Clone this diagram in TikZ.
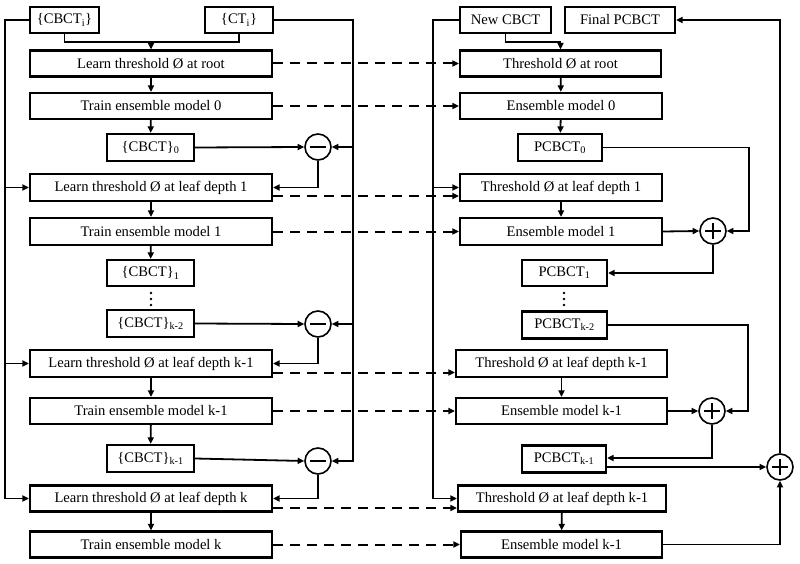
\documentclass[tikz,border=0pt]{standalone}
\usepackage{fontspec}
\setmainfont{Liberation Serif}
\usetikzlibrary{arrows.meta}
\begin{document}
\begin{tikzpicture}[x=1pt,y=-1pt,
  box/.style={draw, line width=2.2pt, inner sep=0pt, font=\fontsize{14.6}{18}\selectfont, minimum height=26pt},
  big/.style={box, minimum width=242pt},
  small/.style={box, minimum width=87pt, minimum height=27pt},
  ln/.style={line width=1.8pt},
  arr/.style={line width=1.8pt, -{Triangle[length=6.5pt,width=6pt]}},
  dsh/.style={line width=2pt, dash pattern=on 10pt off 7pt, -{Triangle[length=6.5pt,width=6pt]}},
  opc/.style={draw, circle, line width=1.6pt, minimum size=26pt, inner sep=0pt}]
\useasboundingbox (0,0) rectangle (800,564);
% ---------- left column ----------
\node[box, minimum width=69pt] (cbcti) at (64.5,20) {\{CBCT\textsubscript{i}\}};
\node[box, minimum width=68pt] (cti) at (239,20) {\{CT\textsubscript{i}\}};
\node[big] (lroot) at (151,63.5) {Learn threshold Ø at root};
\node[big] (tm0) at (151,106) {Train ensemble model 0};
\node[small] (c0) at (150.5,147.5) {\{CBCT\}\textsubscript{0}};
\node[big, minimum height=27pt] (l1) at (151,187.5) {Learn threshold Ø at leaf depth 1};
\node[big, minimum height=27pt] (tm1) at (151,231.5) {Train ensemble model 1};
\node[small, minimum height=26pt] (c1) at (150.5,273) {\{CBCT\}\textsubscript{1}};
\node[small] (ck2) at (150.5,323.5) {\{CBCT\}\textsubscript{k-2}};
\node[big, minimum height=27pt] (lk1) at (151,363.5) {Learn threshold Ø at leaf depth k-1};
\node[big] (tmk1) at (151,411) {Train ensemble model k-1};
\node[small] (ck1) at (150.5,458.5) {\{CBCT\}\textsubscript{k-1}};
\node[big] (lk) at (151,498.5) {Learn threshold Ø at leaf depth k};
\node[big] (tmk) at (151,544.5) {Train ensemble model k};
\node[opc] (m0) at (318,147) {};
\node[opc] (m1) at (318,324) {};
\node[opc] (m2) at (318,461) {};
\foreach \m in {m0,m1,m2}{\draw[line width=1.8pt] ([xshift=-8pt]\m.center) -- ([xshift=8pt]\m.center);}
\foreach \yy in {293,299,305}{\fill (151,\yy) circle (1.4);}
\coordinate (lx) at (5,0);
\coordinate (rx) at (353,0);
\coordinate (jn) at (151,42);
\draw[ln] (cbcti.south) |- (jn) -| (cti.south);
\draw[arr] (jn) -- (lroot.north);
\draw[arr] (cbcti.west) -- (cbcti.west -| lx) |- (lk.west);
\draw[arr] (l1.west -| lx) -- (l1.west);
\draw[arr] (lk1.west -| lx) -- (lk1.west);
\draw[arr] (cti.east) -- (cti.east -| rx) |- (m2.east);
\draw[arr] (m0.east -| rx) -- (m0.east);
\draw[arr] (m1.east -| rx) -- (m1.east);
\draw[arr] (lroot) -- (tm0);
\draw[arr] (tm0) -- (c0);
\draw[arr] (l1) -- (tm1);
\draw[arr] (tm1) -- (c1);
\draw[arr] (lk1) -- (tmk1);
\draw[arr] (tmk1) -- (ck1);
\draw[arr] (lk) -- (tmk);
\draw[arr] (c0.east) -- (m0.west);
\draw[arr] (ck2.east) -- (m1.west);
\draw[arr] (ck1.east) -- (m2.west);
\draw[arr] (m0.south) |- (l1.east);
\draw[arr] (m1.south) |- (lk1.east);
\draw[arr] (m2.south) |- (lk.east);
% ---------- right column ----------
\node[box, minimum width=91pt] (newc) at (505.5,20) {New CBCT};
\node[box, minimum width=110pt] (final) at (620,20) {Final PCBCT};
\node[box, minimum width=201pt] (troot) at (560.5,63.5) {Threshold Ø at root};
\node[box, minimum width=202pt] (em0) at (561,106) {Ensemble model 0};
\node[small, minimum width=84pt] (p0) at (560,147.5) {PCBCT\textsubscript{0}};
\node[box, minimum width=202pt, minimum height=27pt] (t1) at (561,187.5) {Threshold Ø at leaf depth 1};
\node[box, minimum width=202pt, minimum height=27pt] (em1) at (561,231.5) {Ensemble model 1};
\node[small, minimum width=85pt, minimum height=26pt] (p1) at (564.5,273) {PCBCT\textsubscript{1}};
\node[small, minimum width=85pt] (pk2) at (564.5,325) {PCBCT\textsubscript{k-2}};
\node[box, minimum width=211pt, minimum height=27pt] (tk1) at (561.5,363.5) {Threshold Ø at leaf depth k-1};
\node[box, minimum width=211pt] (emk1) at (561.5,411) {Ensemble model k-1};
\node[small, minimum width=84pt] (pk1) at (564,459) {PCBCT\textsubscript{k-1}};
\node[box, minimum width=208pt] (tlast) at (562,498.5) {Threshold Ø at leaf depth k-1};
\node[box, minimum width=201pt] (emlast) at (561.5,544.5) {Ensemble model k-1};
\node[opc] (pa) at (713,231) {};
\node[opc] (pb) at (712,411) {};
\node[opc] (pc) at (780,467) {};
\foreach \m in {pa,pb,pc}{\draw[line width=1.8pt] ([xshift=-8pt]\m.center) -- ([xshift=8pt]\m.center) ([yshift=-8pt]\m.center) -- ([yshift=8pt]\m.center);}
\foreach \yy in {293,299,305}{\fill (564,\yy) circle (1.4);}
\coordinate (lx2) at (433,0);
\coordinate (jn2) at (560.5,42);
\coordinate (px1) at (749,0);
\coordinate (px2) at (748,0);
\draw[ln] (newc.south) |- (jn2);
\draw[arr] (jn2) -- (troot.north);
\draw[arr] (newc.west) -- (newc.west -| lx2) |- (tlast.west);
\draw[arr] (t1.west -| lx2) -- (t1.west);
\draw[arr] (troot) -- (em0);
\draw[arr] (em0) -- (p0);
\draw[arr] (t1) -- (em1);
\draw[arr] (tk1) -- (emk1);
\draw[arr] (tlast) -- (emlast);
\draw[arr] (p0.east) -- (p0.east -| px1) |- (pa.east);
\draw[arr] (em1.east) -- (pa.west);
\draw[arr] (pa.south) |- (p1.east);
\draw[arr] (pk2.east) -- (pk2.east -| px2) |- (pb.east);
\draw[arr] (emk1.east) -- (pb.west);
\draw[arr] (pb.south) |- ([yshift=1pt]pk1.east);
\draw[arr] (pk1.east |- pc.west) -- (pc.west);
\draw[arr] (emlast.east) -| (pc.south);
\draw[arr] (pc.north) |- (final.east);
% ---------- dashed links ----------
\draw[dsh] (lroot.east) -- (troot.west);
\draw[dsh] (tm0.east) -- (em0.west);
\draw[dsh] ([yshift=-8.5pt]l1.east) -- ([yshift=-8.5pt]t1.west);
\draw[dsh] (tm1.east) -- (em1.west);
\draw[dsh] ([yshift=-9pt]lk1.east) -- ([yshift=-9pt]tk1.west);
\draw[dsh] (tmk1.east) -- (emk1.west);
\draw[dsh] ([yshift=-9.5pt]lk.east) -- ([yshift=-9.5pt]tlast.west);
\draw[dsh] (tmk.east) -- (emlast.west);
\end{tikzpicture}
\end{document}
